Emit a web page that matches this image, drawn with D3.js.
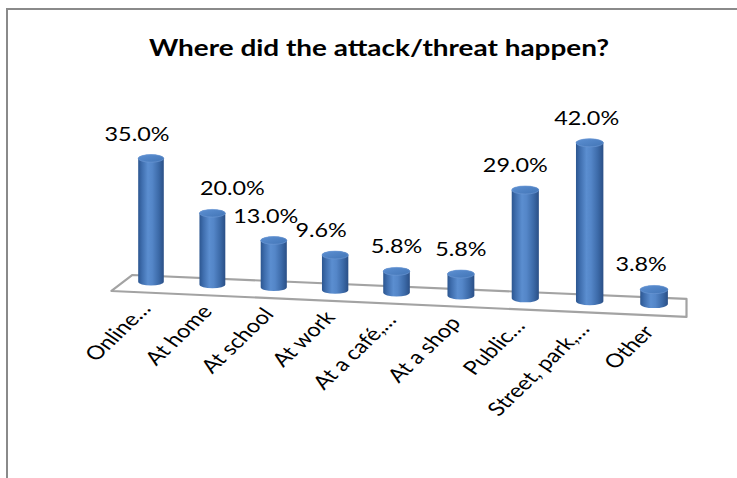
<!DOCTYPE html>
<html>
<head>
<meta charset="utf-8">
<script src="https://cdn.jsdelivr.net/npm/d3@7"></script>
<style>
  html, body { margin: 0; padding: 0; background: #fff; }
  svg { display: block; }
  text { font-family: Lato, "Open Sans", sans-serif; fill: #000; }
</style>
</head>
<body>
<svg id="chart" width="737" height="478"></svg>
<script>
// ---- data ----
const title = "Where did the attack/threat happen?";
const categories = ["Online…", "At home", "At school", "At work", "At a café,…", "At a shop", "Public…", "Street, park,…", "Other"];
const values = [35.0, 20.0, 13.0, 9.6, 5.8, 5.8, 29.0, 42.0, 3.8];
const valueLabels = ["35.0%", "20.0%", "13.0%", "9.6%", "5.8%", "5.8%", "29.0%", "42.0%", "3.8%"];

// ---- layout (not data) ----
const W = 737, H = 478;
const labelDx = [-14, 20, -8, -14, 0, 0, -10, -3, -13];

const svg = d3.select("#chart");

// gradients
const defs = svg.append("defs");
const gBody = defs.append("linearGradient").attr("id", "gBody").attr("x1", "0").attr("x2", "1").attr("y1", "0").attr("y2", "0");
[[0, "#2c5690"], [0.15, "#3f6eae"], [0.38, "#5b8ed0"], [0.55, "#5486c8"], [0.8, "#3c6aa8"], [1, "#2a4f86"]]
  .forEach(([o, c]) => gBody.append("stop").attr("offset", o).attr("stop-color", c));
const gTop = defs.append("linearGradient").attr("id", "gTop").attr("x1", "0").attr("x2", "1").attr("y1", "0").attr("y2", "1");
[[0, "#5d90d2"], [0.5, "#4f82c4"], [1, "#4275b6"]]
  .forEach(([o, c]) => gTop.append("stop").attr("offset", o).attr("stop-color", c));

// frame
svg.append("rect").attr("x", 7).attr("y", 9).attr("width", 900).attr("height", 700)
  .attr("fill", "none").attr("stroke", "#8a8a8a").attr("stroke-width", 2);

// title
svg.append("text")
  .attr("transform", `translate(379,56) scale(1.27,1)`)
  .attr("text-anchor", "middle").attr("font-size", 22).attr("font-weight", "bold")
  .text(title);

// ---- scales (pseudo 3D perspective) ----
const u = d3.scalePoint().domain(categories).range([0, 1]);
const xs = d3.scaleLinear().domain([0, 0.5, 1]).range([150, 396, 654]);      // along-axis position
const persp = d3.scaleLinear().domain([0, 1]).range([1, 1.08]);               // perspective size factor
const midY = d3.scaleLinear().domain([122.5, 687.5]).range([283, 308]);        // floor centre line
const uL = -0.057, uR = 1.063;
const depthHalf = d3.scaleLinear().domain([uL, uR]).range([8, 9]);
const depthShift = d3.scaleLinear().domain([uL, uR]).range([-10.5, 0]);
const yv = d3.scaleLinear().domain([0, 42]).range([0, 148]);                  // value -> height

function proj(uu, depth) { // depth: -1 back, +1 front
  const x0 = xs(uu);
  return [x0 + depth * depthShift(uu), midY(x0) + depth * depthHalf(uu)];
}

// floor
const floorPts = [proj(uL, -1), proj(uR, -1), proj(uR, 1), proj(uL, 1)];
svg.append("polygon").attr("points", floorPts.map(p => p.join(",")).join(" "))
  .attr("fill", "#fff").attr("stroke", "#a3a3a3").attr("stroke-width", 2.2).attr("stroke-linejoin", "round");

// bars (cylinders)
const bars = categories.map((c, i) => {
  const uu = u(c), s = persp(uu);
  const cx = xs(uu) + depthShift(uu) * -0.1;
  const by = midY(xs(uu)) - 2.5;
  const rx = 12.8 * s, ry = 3.8 * s;
  const ty = by - yv(values[i]) * s;
  return { c, i, cx, by, ty, rx, ry };
});

const g = svg.append("g");
bars.forEach(b => {
  const p = `M${b.cx - b.rx},${b.ty} L${b.cx - b.rx},${b.by} A${b.rx},${b.ry} 0 0 0 ${b.cx + b.rx},${b.by} L${b.cx + b.rx},${b.ty} A${b.rx},${b.ry} 0 0 0 ${b.cx - b.rx},${b.ty} Z`;
  g.append("path").attr("d", p).attr("fill", "url(#gBody)");
  g.append("ellipse").attr("cx", b.cx).attr("cy", b.ty).attr("rx", b.rx).attr("ry", b.ry)
    .attr("fill", "url(#gTop)").attr("stroke", "#6f9bd6").attr("stroke-width", 0.6);
});

// value labels
bars.forEach(b => {
  svg.append("text")
    .attr("transform", `translate(${b.cx + labelDx[b.i]},${b.ty - b.ry - 14}) scale(1.17,1)`)
    .attr("text-anchor", "middle").attr("font-size", 20)
    .text(valueLabels[b.i]);
});

// category labels (stretched horizontally like the reference)
bars.forEach(b => {
  const uu = u(b.c);
  const front = proj(uu, 1);
  svg.append("text")
    .attr("transform", `translate(${b.cx + 1},${front[1] + 17}) scale(1.25,1) rotate(-50)`)
    .attr("text-anchor", "end").attr("font-size", 19)
    .text(b.c);
});
</script>
</body>
</html>
